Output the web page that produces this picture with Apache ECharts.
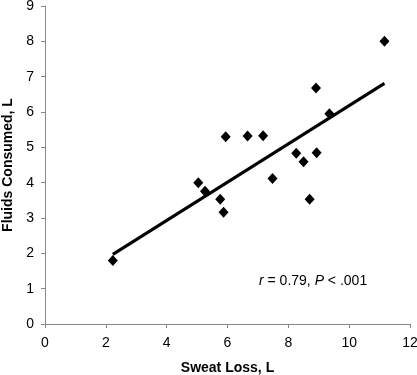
<!DOCTYPE html>
<html><head><meta charset="utf-8">
<script src="https://cdn.jsdelivr.net/npm/echarts@6/dist/echarts.min.js"></script>
<style>html,body{margin:0;padding:0;background:#fff}#c{width:417px;height:375px}</style>
</head><body><div id="c"></div>
<script>
const sweatLoss = [2.23, 5.04, 5.26, 5.76, 5.87, 5.94, 6.66, 7.17, 7.48, 8.26, 8.50, 8.70, 8.93, 8.91, 9.35, 11.16];
const fluidsConsumed = [1.80, 4.00, 3.76, 3.53, 3.16, 5.30, 5.32, 5.33, 4.12, 4.83, 4.59, 3.53, 4.85, 6.68, 5.95, 8.00];
const trendX = [2.23, 11.16];
const trendY = [1.97, 6.81];
const xTicks = [0, 2, 4, 6, 8, 10, 12];
const yTicks = [0, 1, 2, 3, 4, 5, 6, 7, 8, 9];

const chart = echarts.init(document.getElementById('c'), null, {renderer: 'canvas'});
const FF = 'Liberation Sans, Arial, sans-serif';
chart.setOption({
  animation: false,
  backgroundColor: '#fff',
  grid: {left: 45, top: 6, right: 7, bottom: 51, containLabel: false, outerBoundsMode: 'none'},
  xAxis: {
    type: 'value', min: xTicks[0], max: xTicks[xTicks.length-1], interval: 2,
    axisLine: {lineStyle: {color: '#888', width: 1}},
    axisTick: {show: true, length: 4, lineStyle: {color: '#888'}},
    splitLine: {show: false},
    axisLabel: {margin: 12, fontFamily: FF, fontSize: 14, color: '#000'},
    name: 'Sweat Loss, L', nameLocation: 'middle', nameGap: 37,
    nameTextStyle: {fontFamily: FF, fontSize: 14, fontWeight: 'bold', color: '#000'}
  },
  yAxis: {
    type: 'value', min: yTicks[0], max: yTicks[yTicks.length-1], interval: 1,
    axisLine: {show: true, lineStyle: {color: '#888', width: 1}},
    axisTick: {show: true, length: 4, lineStyle: {color: '#888'}},
    splitLine: {show: false},
    axisLabel: {margin: 11, fontFamily: FF, fontSize: 14, color: '#000'},
    name: 'Fluids Consumed, L', nameLocation: 'middle', nameGap: 30,
    nameTextStyle: {fontFamily: FF, fontSize: 14, fontWeight: 'bold', color: '#000'}
  },
  series: [
    {
      type: 'line', data: trendX.map((x, i) => [x, trendY[i]]),
      symbol: 'none', lineStyle: {color: '#000', width: 3}, z: 2
    },
    {
      type: 'scatter', data: sweatLoss.map((x, i) => [x, fluidsConsumed[i]]),
      symbol: 'diamond', symbolSize: [10, 11], itemStyle: {color: '#000', opacity: 1}, z: 3
    }
  ],
  graphic: [{
    type: 'text', left: 259, top: 274,
    style: {
      rich: {
        i: {fontFamily: FF, fontSize: 14, fontStyle: 'italic', fill: '#000'},
        n: {fontFamily: FF, fontSize: 14, fill: '#000'}
      },
      text: '{i|r}{n| = 0.79, }{i|P}{n| < .001}'
    }
  }]
});
</script></body></html>
